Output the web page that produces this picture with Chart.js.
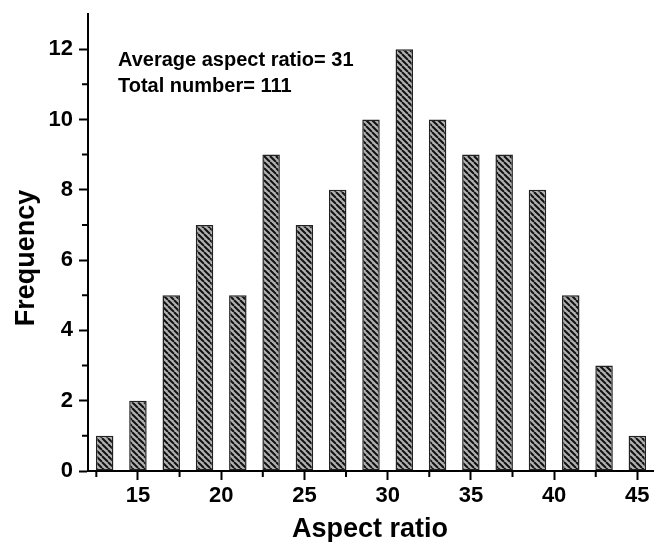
<!DOCTYPE html>
<html lang="en">
<head>
    <meta charset="UTF-8">
    <title>Aspect ratio histogram</title>
    <style>
        body { margin: 0; background: #fff; }
        #wrap { width: 654px; height: 542px; }
    </style>
</head>
<body>
    <div id="wrap"><canvas id="histChart"></canvas></div>

    <script src="https://cdn.jsdelivr.net/npm/chart.js"></script>
    <script>
        // histogram bins (bin centre) and counts
        const aspectBins = [13, 15, 17, 19, 21, 23, 25, 27, 29, 31, 33, 35, 37, 39, 41, 43, 45];
        const counts = [1, 2, 5, 7, 5, 9, 7, 8, 10, 12, 10, 9, 9, 8, 5, 3, 1];

        const xMajorTicks = [15, 20, 25, 30, 35, 40, 45];
        const xMinorTicks = [12.5, 17.5, 22.5, 27.5, 32.5, 37.5, 42.5];
        const yMajorTicks = [0, 2, 4, 6, 8, 10, 12];
        const yMinorTicks = [1, 3, 5, 7, 9, 11];

        const noteLines = ['Average aspect ratio= 31', 'Total number= 111'];
        const xTitle = 'Aspect ratio';
        const yTitle = 'Frequency';

        const FONT = '"Liberation Sans", Arial, sans-serif';

        // diagonal hatch fill for the bars
        function makeHatch() {
            const s = 6;
            const c = document.createElement('canvas');
            c.width = s; c.height = s;
            const g = c.getContext('2d');
            g.fillStyle = '#b0b0b0';
            g.fillRect(0, 0, s, s);
            g.strokeStyle = '#111';
            g.lineWidth = 2;
            g.beginPath();
            for (let x0 = -s; x0 <= s; x0 += s) {
                g.moveTo(x0, 0);
                g.lineTo(x0 + s, s);
            }
            g.stroke();
            return g.createPattern(c, 'repeat');
        }

        // minor ticks, axis titles and the note text
        const extras = {
            id: 'extras',
            afterDraw(chart) {
                const ctx = chart.ctx;
                const xs = chart.scales.x, ys = chart.scales.y;
                const area = chart.chartArea;
                ctx.save();
                ctx.strokeStyle = '#000';
                ctx.lineWidth = 2;
                ctx.beginPath();
                xMinorTicks.forEach(v => {
                    const px = xs.getPixelForValue(v);
                    ctx.moveTo(px, area.bottom);
                    ctx.lineTo(px, area.bottom + 6);
                });
                yMinorTicks.forEach(v => {
                    const py = ys.getPixelForValue(v);
                    ctx.moveTo(area.left, py);
                    ctx.lineTo(area.left - 6, py);
                });
                ctx.stroke();

                ctx.fillStyle = '#000';
                ctx.font = 'bold 27px ' + FONT;
                ctx.textAlign = 'center';
                ctx.textBaseline = 'alphabetic';
                ctx.fillText(xTitle, 370, 537);

                ctx.save();
                ctx.translate(34, 258);
                ctx.rotate(-Math.PI / 2);
                ctx.fillText(yTitle, 0, 0);
                ctx.restore();

                ctx.font = 'bold 20px ' + FONT;
                ctx.textAlign = 'left';
                noteLines.forEach((t, i) => ctx.fillText(t, 118, 66 + i * 26));
                ctx.restore();
            }
        };

        const ctx = document.getElementById('histChart').getContext('2d');
        new Chart(ctx, {
            type: 'bar',
            data: {
                datasets: [{
                    data: aspectBins.map((b, i) => ({ x: b, y: counts[i] })),
                    backgroundColor: makeHatch(),
                    borderColor: '#222',
                    borderWidth: 1.5,
                    borderSkipped: false,
                    barPercentage: 0.525,
                    categoryPercentage: 1
                }]
            },
            options: {
                responsive: true,
                maintainAspectRatio: false,
                animation: false,
                layout: { padding: { top: 14, right: 0, left: 0, bottom: 0 } },
                plugins: {
                    legend: { display: false },
                    tooltip: { enabled: false }
                },
                scales: {
                    x: {
                        type: 'linear',
                        min: 12,
                        max: 46,
                        offset: false,
                        afterBuildTicks: s => { s.ticks = xMajorTicks.map(v => ({ value: v })); },
                        afterFit: s => {
                            s.height = 71;
                            s.paddingLeft = 0;
                            s.paddingRight = 0;
                        },
                        grid: {
                            drawOnChartArea: false,
                            offset: false,
                            tickLength: 9,
                            tickWidth: 2,
                            tickColor: '#000'
                        },
                        border: { color: '#000', width: 2 },
                        ticks: {
                            color: '#000',
                            padding: 3,
                            maxRotation: 0,
                            font: { family: FONT, size: 22, weight: 'bold' }
                        }
                    },
                    y: {
                        min: 0,
                        max: 13,
                        afterBuildTicks: s => { s.ticks = yMajorTicks.map(v => ({ value: v })); },
                        afterFit: s => {
                            s.width = 88;
                            s.paddingTop = 0;
                            s.paddingBottom = 0;
                        },
                        grid: {
                            drawOnChartArea: false,
                            tickLength: 9,
                            tickWidth: 2,
                            tickColor: '#000'
                        },
                        border: { color: '#000', width: 2 },
                        ticks: {
                            color: '#000',
                            padding: 6,
                            font: { family: FONT, size: 22, weight: 'bold' }
                        }
                    }
                }
            },
            plugins: [extras]
        });
    </script>
</body>
</html>
